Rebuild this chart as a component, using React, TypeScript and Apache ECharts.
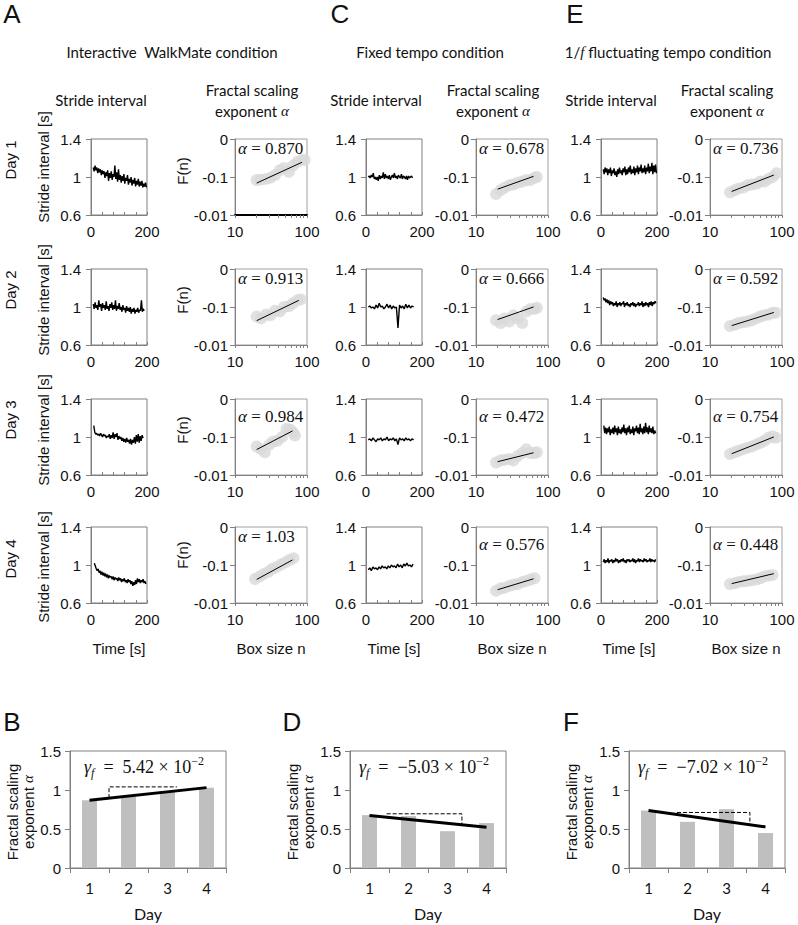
import React, { useEffect, useRef } from "react";
import * as echarts from "echarts";

const SANS = "'Liberation Sans', Arial, sans-serif";
const LATO = "Lato, 'Open Sans', sans-serif";
const SERIF = "'Liberation Serif', 'DejaVu Serif', serif";

// ---------- Titles ----------
const panelLetters = ["A", "C", "E", "B", "D", "F"];
const conditionTitles = ["Interactive  WalkMate condition", "Fixed tempo condition", "1/{i|f} fluctuating tempo condition"];
const dayLabels = ["Day 1", "Day 2", "Day 3", "Day 4"];

// ---------- Stride interval time series (s) ----------
const tsA1 = [1.1, 1.06, 1.12, 1.07, 1.1, 1.04, 1.09, 1.05, 1.08, 1.02, 1.07, 1.03, 1.06, 0.99, 1.05, 1.01, 1.07, 0.96, 1.04, 0.99, 1.06, 0.97, 1.03, 1.0, 1.12, 0.98, 1.05, 0.95, 1.08, 0.97, 1.02, 0.94, 1.01, 0.96, 1.03, 0.93, 0.99, 0.96, 1.02, 0.92, 0.98, 0.94, 1.0, 0.91, 0.97, 0.93, 0.99, 0.9, 0.96, 0.92, 0.98, 0.9, 0.95, 0.91, 0.96, 0.89, 0.93, 0.9, 0.94, 0.89];
const tsA2 = [1.03, 0.98, 1.05, 0.99, 1.02, 0.97, 1.07, 1.0, 1.03, 0.96, 1.04, 0.99, 1.02, 0.97, 1.06, 0.98, 1.01, 0.96, 1.03, 0.99, 1.05, 0.97, 1.02, 0.98, 1.07, 0.96, 1.01, 0.98, 1.04, 0.97, 1.0, 0.95, 1.02, 0.97, 0.99, 0.94, 1.01, 0.96, 0.99, 0.95, 1.0, 0.93, 0.98, 0.95, 0.99, 0.93, 0.97, 0.95, 0.99, 0.94, 0.97, 0.96, 1.07, 0.95, 0.98, 0.96];
const tsA3 = [1.12, 1.05, 1.03, 1.04, 1.02, 1.03, 1.01, 1.04, 1.02, 1.0, 1.03, 1.01, 1.02, 0.99, 1.01, 1.0, 1.03, 0.98, 1.02, 0.99, 1.05, 0.98, 1.03, 1.0, 1.04, 0.97, 1.01, 0.98, 1.0, 0.96, 0.99, 0.95, 0.98, 0.94, 0.99, 0.95, 0.97, 0.93, 0.98, 0.92, 0.97, 0.94, 1.0, 0.93, 1.02, 0.95, 1.03, 0.94, 1.01, 0.96, 1.02, 0.99];
const tsA4 = [1.02, 0.99, 0.96, 0.94, 0.96, 0.92, 0.94, 0.9, 0.93, 0.89, 0.92, 0.88, 0.91, 0.87, 0.9, 0.86, 0.89, 0.87, 0.88, 0.85, 0.88, 0.84, 0.87, 0.85, 0.86, 0.83, 0.87, 0.84, 0.86, 0.82, 0.85, 0.83, 0.86, 0.82, 0.84, 0.81, 0.85, 0.82, 0.84, 0.8, 0.83, 0.78, 0.82, 0.79, 0.84, 0.8, 0.86, 0.82, 0.85, 0.81, 0.84, 0.82, 0.85, 0.81, 0.83, 0.8];
const tsC1 = [1.0, 1.01, 0.99, 1.02, 1.0, 1.04, 0.98, 1.0, 0.97, 1.0, 0.96, 1.02, 0.98, 1.01, 0.99, 1.05, 0.98, 1.03, 0.99, 1.01, 0.98, 1.02, 0.97, 1.0, 1.02, 0.99, 1.04, 0.99, 1.01, 0.98, 1.02, 1.0, 0.99, 1.03, 0.98, 1.01, 1.0, 0.98, 1.01, 0.97, 1.01, 0.99, 1.0, 1.01, 0.99];
const tsC2 = [1.0, 1.01, 0.99, 1.0, 0.98, 1.02, 0.99, 1.04, 1.0, 1.01, 0.98, 1.0, 1.03, 0.99, 1.02, 0.98, 1.01, 0.99, 1.0, 0.78, 1.02, 0.99, 1.01, 0.98, 1.03, 0.99, 1.02, 0.99, 1.01, 1.0];
const tsC3 = [0.97, 0.98, 0.96, 0.99, 0.97, 0.95, 0.98, 0.97, 0.99, 0.96, 0.98, 0.97, 1.0, 0.96, 0.98, 0.97, 0.99, 0.96, 0.98, 0.92, 0.99, 0.97, 0.98, 0.96, 0.99, 0.97, 0.98, 0.96, 0.98, 0.97];
const tsC4 = [0.95, 0.97, 0.94, 0.98, 0.96, 0.97, 0.95, 0.98, 0.96, 0.99, 0.97, 0.98, 0.96, 0.99, 0.97, 1.0, 0.98, 0.99, 0.97, 1.01, 0.98, 1.0, 0.97, 1.01, 0.99, 1.02, 0.99, 1.0, 0.98, 1.01];
const tsE1 = [1.08, 1.03, 1.1, 1.05, 1.09, 1.02, 1.08, 1.04, 1.1, 1.01, 1.07, 1.04, 1.09, 1.02, 1.06, 1.0, 1.08, 1.03, 1.1, 1.04, 1.07, 1.02, 1.09, 1.05, 1.11, 1.02, 1.08, 1.03, 1.1, 1.05, 1.12, 1.03, 1.08, 1.04, 1.11, 1.02, 1.09, 1.05, 1.12, 1.03, 1.1, 1.06, 1.13, 1.04, 1.09, 1.05, 1.12, 1.03, 1.1, 1.06, 1.14, 1.04, 1.11, 1.06, 1.15, 1.03, 1.12, 1.05, 1.13, 1.04];
const tsE2 = [1.1, 1.07, 1.09, 1.05, 1.08, 1.04, 1.07, 1.02, 1.06, 1.03, 1.05, 1.01, 1.04, 1.02, 1.06, 1.0, 1.04, 1.02, 1.05, 1.01, 1.04, 1.03, 1.06, 1.0, 1.04, 1.02, 1.05, 1.01, 1.03, 1.0, 1.04, 1.02, 1.05, 1.01, 1.04, 1.0, 1.03, 1.02, 1.05, 1.01, 1.04, 1.02, 1.06, 1.0, 1.04, 1.01, 1.05, 1.02, 1.04, 1.0, 1.05, 1.02, 1.06, 1.01, 1.05, 1.03, 1.06, 1.04];
const tsE3 = [1.12, 1.04, 1.1, 1.03, 1.09, 1.05, 1.11, 1.02, 1.08, 1.04, 1.1, 1.03, 1.12, 1.05, 1.09, 1.02, 1.11, 1.04, 1.08, 1.03, 1.1, 1.05, 1.13, 1.04, 1.09, 1.02, 1.1, 1.05, 1.12, 1.03, 1.08, 1.04, 1.11, 1.02, 1.09, 1.06, 1.12, 1.04, 1.1, 1.03, 1.14, 1.05, 1.09, 1.03, 1.11, 1.04, 1.15, 1.05, 1.1, 1.03, 1.12, 1.05, 1.09, 1.04, 1.11, 1.03, 1.07, 1.04];
const tsE4 = [1.03, 1.06, 1.02, 1.05, 1.03, 1.07, 1.02, 1.05, 1.04, 1.06, 1.02, 1.05, 1.03, 1.07, 1.04, 1.06, 1.02, 1.05, 1.03, 1.06, 1.04, 1.07, 1.03, 1.05, 1.02, 1.06, 1.04, 1.06, 1.03, 1.05, 1.04, 1.07, 1.03, 1.06, 1.02, 1.05, 1.04, 1.07, 1.03, 1.06, 1.04, 1.05, 1.03, 1.07, 1.04, 1.06, 1.03, 1.05, 1.04, 1.07, 1.03, 1.06, 1.04, 1.05, 1.03, 1.06];
// recording span [start, end] in seconds per series
const tsSpanA = [[8, 198], [8, 190], [10, 186], [12, 196]];
const tsSpanC = [[8, 166], [8, 170], [8, 170], [8, 168]];
const tsSpanE = [[8, 198], [8, 196], [10, 195], [8, 195]];

// ---------- DFA: box size n and log F(n) (axis units) ----------
const nA1 = [20, 23, 27, 31, 36, 42, 48, 56, 64, 74, 85, 93];
const fA1 = [-1.08, -1.07, -1.05, -1.02, -0.95, -0.82, -0.76, -0.86, -0.7, -0.6, -0.55, -0.55];
const nA2 = [20, 23, 27, 31, 36, 42, 48, 56, 64, 74, 82];
const fA2 = [-1.25, -1.3, -1.2, -1.22, -1.1, -1.12, -1.0, -0.98, -0.9, -0.82, -0.8];
const nA3 = [20, 23, 26, 30, 34, 39, 45, 52, 58, 64, 68];
const fA3 = [-1.25, -1.32, -1.4, -1.2, -1.12, -1.1, -1.0, -0.78, -0.8, -0.88, -0.96];
const nA4 = [19, 22, 25, 29, 33, 38, 44, 50, 57, 65];
const fA4 = [-1.37, -1.3, -1.24, -1.18, -1.1, -1.05, -0.98, -0.93, -0.87, -0.82];
const nC1 = [19, 22, 25, 29, 33, 38, 44, 50, 57, 65, 70];
const fC1 = [-1.45, -1.35, -1.28, -1.22, -1.2, -1.15, -1.12, -1.08, -1.08, -1.02, -1.0];
const nC2 = [19, 22, 25, 29, 33, 38, 44, 50, 57, 65, 70];
const fC2 = [-1.35, -1.42, -1.3, -1.38, -1.22, -1.3, -1.42, -1.12, -1.05, -1.05, -1.02];
const nC3 = [19, 22, 25, 29, 33, 38, 44, 50, 57, 65, 70];
const fC3 = [-1.67, -1.62, -1.6, -1.58, -1.62, -1.5, -1.42, -1.32, -1.42, -1.42, -1.4];
const nC4 = [19, 22, 25, 29, 33, 38, 44, 50, 57, 65];
const fC4 = [-1.68, -1.62, -1.6, -1.55, -1.52, -1.5, -1.45, -1.42, -1.38, -1.35];
const nE1 = [19, 22, 25, 29, 33, 38, 44, 50, 57, 65, 74, 84];
const fE1 = [-1.4, -1.35, -1.3, -1.28, -1.22, -1.2, -1.18, -1.12, -1.12, -1.05, -1.0, -0.9];
const nE2 = [19, 22, 25, 29, 33, 38, 44, 50, 57, 65, 74, 82];
const fE2 = [-1.5, -1.47, -1.42, -1.4, -1.38, -1.35, -1.3, -1.25, -1.22, -1.2, -1.15, -1.15];
const nE3 = [19, 22, 25, 29, 33, 38, 44, 50, 57, 65, 74, 82];
const fE3 = [-1.45, -1.4, -1.36, -1.32, -1.28, -1.25, -1.2, -1.15, -1.1, -1.02, -0.98, -1.02];
const nE4 = [19, 22, 25, 29, 33, 38, 44, 50, 57, 65, 74];
const fE4 = [-1.5, -1.48, -1.45, -1.43, -1.42, -1.4, -1.38, -1.35, -1.3, -1.28, -1.26];

// fitted scaling exponents and fit ranges
const alphaA = [0.870, 0.913, 0.984, 1.03];
const alphaC = [0.678, 0.666, 0.472, 0.576];
const alphaE = [0.736, 0.592, 0.754, 0.448];
const alphaLabelA = ["0.870", "0.913", "0.984", "1.03"];
const alphaLabelC = ["0.678", "0.666", "0.472", "0.576"];
const alphaLabelE = ["0.736", "0.592", "0.754", "0.448"];
const fitStartF_A = [-1.16, -1.36, -1.33, -1.38];
const fitStartF_C = [-1.32, -1.33, -1.65, -1.65];
const fitStartF_E = [-1.38, -1.49, -1.44, -1.49];
const fitEndN_A = [85, 77, 63, 63];
const fitEndN_C = [63, 63, 63, 63];
const fitEndN_E = [77, 77, 77, 77];
const fitStartN = 20;

// ---------- Bar charts (B, D, F) ----------
const days = [1, 2, 3, 4];
const barB = [0.870, 0.913, 0.984, 1.03];
const barD = [0.678, 0.666, 0.472, 0.576];
const barF = [0.736, 0.592, 0.754, 0.448];
const gammaVals = [0.0542, -0.0503, -0.0702];
const gammaLabels = ["5.42", "\u22125.03", "\u22127.02"];
// dashed reference triangle: [x start, x end, top value]
const triB = [1.5, 3.24, 1.04];
const triD = [1.44, 3.37, 0.695];
const triF = [1.73, 3.6, 0.712];

// ---------- tick values ----------
const tsXTicks = [0, 40, 80, 120, 160, 200];
const tsXLabels = [0, 200];
const tsYTicks = [0.6, 1, 1.4];
const dfaYTicks = [-2, -1, 0];
const dfaYText: Record<string, string> = { "-2": "-0.01", "-1": "-0.1", "0": "0" };
const dfaXTicksN = [10, 20, 30, 40, 50, 60, 70, 80, 90, 100];
const dfaXLabelsN = [10, 100];
const barXTicks = [0.5, 1.5, 2.5, 3.5, 4.5];

// ---------- layout ----------
const rowTop = [139, 269, 399, 527];
const rowH = 76;
const tsLeft = [91, 366, 601];
const tsW = 56;
const dfaLeft = [235, 476, 710];
const dfaW = 72;
const barLeft = [70, 350, 629];
const barW = 156;
const barTop = 751;
const barH = 117;

export default function App() {
  const ref = useRef<HTMLDivElement>(null);
  useEffect(() => {
    if (!ref.current) return;
    const chart = echarts.init(ref.current, undefined, { renderer: "svg" });

    const tsData = [[tsA1, tsA2, tsA3, tsA4], [tsC1, tsC2, tsC3, tsC4], [tsE1, tsE2, tsE3, tsE4]];
    const tsSpans = [tsSpanA, tsSpanC, tsSpanE];
    const dfaN = [[nA1, nA2, nA3, nA4], [nC1, nC2, nC3, nC4], [nE1, nE2, nE3, nE4]];
    const dfaF = [[fA1, fA2, fA3, fA4], [fC1, fC2, fC3, fC4], [fE1, fE2, fE3, fE4]];
    const alphas = [alphaA, alphaC, alphaE];
    const alphaLabels = [alphaLabelA, alphaLabelC, alphaLabelE];
    const fitStarts = [fitStartF_A, fitStartF_C, fitStartF_E];
    const fitEnds = [fitEndN_A, fitEndN_C, fitEndN_E];
    const bars = [barB, barD, barF];
    const tris = [triB, triD, triF];

    const grids: any[] = [];
    const xAxes: any[] = [];
    const yAxes: any[] = [];
    const series: any[] = [];
    const graphics: any[] = [];

    const axisColor = "#808080";
    const labelBase = { fontFamily: SANS, fontSize: 15, color: "#111" };

    const text = (x: number, y: number, t: string, o: any = {}) => {
      graphics.push({
        type: "text",
        x,
        y,
        rotation: o.rotation || 0,
        style: {
          text: t,
          align: o.align || "center",
          verticalAlign: "middle",
          fontFamily: o.fontFamily || SANS,
          fontSize: o.fontSize || 15,
          fill: "#111",
          lineHeight: o.lineHeight,
          rich: o.rich,
        },
      });
    };

    for (let c = 0; c < 3; c++) {
      for (let r = 0; r < 4; r++) {
        // ---- time series grid ----
        const gi = grids.length;
        grids.push({ left: tsLeft[c], top: rowTop[r], width: tsW, height: rowH, show: true, borderColor: axisColor, borderWidth: 1, containLabel: false });
        xAxes.push({
          gridIndex: gi, type: "value", min: 0, max: 200,
          axisLine: { show: true, onZero: false, lineStyle: { color: axisColor } },
          axisTick: { show: true, inside: true, length: 3, customValues: tsXTicks, lineStyle: { color: axisColor } },
          axisLabel: { ...labelBase, customValues: tsXLabels, margin: 9 },
          splitLine: { show: false },
        });
        yAxes.push({
          gridIndex: gi, type: "value", min: 0.6, max: 1.4,
          axisLine: { show: true, onZero: false, lineStyle: { color: axisColor } },
          axisTick: { show: true, length: 5, customValues: tsYTicks, lineStyle: { color: axisColor } },
          axisLabel: { ...labelBase, customValues: tsYTicks, margin: 10, formatter: (v: number) => String(Math.round(v * 10) / 10) },
          splitLine: { show: false },
        });
        const vals = tsData[c][r];
        const [t0, t1] = tsSpans[c][r];
        series.push({
          type: "line", xAxisIndex: gi, yAxisIndex: gi, showSymbol: false, silent: true,
          lineStyle: { color: "#000", width: 1.4 },
          data: vals.map((v, i) => [t0 + (i * (t1 - t0)) / (vals.length - 1), v]),
        });

        // ---- DFA grid ----
        const gj = grids.length;
        grids.push({ left: dfaLeft[c], top: rowTop[r], width: dfaW, height: rowH, show: true, borderColor: "#a0a0a0", borderWidth: 1, containLabel: false });
        const strongBottom = c === 0 && r === 0;
        xAxes.push({
          gridIndex: gj, type: "value", min: 1, max: 2,
          axisLine: { show: true, onZero: false, lineStyle: { color: strongBottom ? "#000" : axisColor, width: strongBottom ? 2 : 1 } },
          axisTick: { show: true, length: 3, customValues: dfaXTicksN.map((n) => Math.log10(n)), lineStyle: { color: axisColor } },
          axisLabel: { ...labelBase, customValues: dfaXLabelsN.map((n) => Math.log10(n)), margin: 9, formatter: (v: number) => String(Math.round(Math.pow(10, v))) },
          splitLine: { show: false },
        });
        yAxes.push({
          gridIndex: gj, type: "value", min: -2, max: 0,
          axisLine: { show: true, onZero: false, lineStyle: { color: axisColor } },
          axisTick: { show: true, length: 5, customValues: dfaYTicks, lineStyle: { color: axisColor } },
          axisLabel: { ...labelBase, customValues: dfaYTicks, margin: 7, formatter: (v: number) => dfaYText[String(Math.round(v))] },
          splitLine: { show: false },
        });
        const ns = dfaN[c][r];
        const fs = dfaF[c][r];
        series.push({
          type: "scatter", xAxisIndex: gj, yAxisIndex: gj, silent: true, symbolSize: 12,
          itemStyle: { color: "#d9d9d9" },
          data: ns.map((n, i) => [Math.log10(n), fs[i]]),
        });
        const a = alphas[c][r];
        const y0 = fitStarts[c][r];
        const nEnd = fitEnds[c][r];
        series.push({
          type: "line", xAxisIndex: gj, yAxisIndex: gj, showSymbol: false, silent: true,
          lineStyle: { color: "#000", width: 1 },
          data: [
            [Math.log10(fitStartN), y0],
            [Math.log10(nEnd), y0 + a * Math.log10(nEnd / fitStartN)],
          ],
        });
        const dy = r === 2 ? 17 : r === 3 && c > 0 ? 17 : 9;
        text(dfaLeft[c] + 3, rowTop[r] + dy, "{a|\u03b1} = " + alphaLabels[c][r], {
          align: "left", fontFamily: SERIF, fontSize: 17,
          rich: { a: { fontStyle: "italic", fontFamily: SERIF, fontSize: 17 } },
        });
      }
    }

    // ---- bar charts ----
    for (let k = 0; k < 3; k++) {
      const gi = grids.length;
      grids.push({ left: barLeft[k], top: barTop, width: barW, height: barH, show: true, borderColor: axisColor, borderWidth: 1, containLabel: false });
      xAxes.push({
        gridIndex: gi, type: "value", min: 0.5, max: 4.5,
        axisLine: { show: true, onZero: false, lineStyle: { color: axisColor } },
        axisTick: { show: true, length: 5, customValues: barXTicks, lineStyle: { color: axisColor } },
        axisLabel: { fontFamily: LATO, fontSize: 15, color: "#111", customValues: days, margin: 12 },
        splitLine: { show: false },
      });
      yAxes.push({
        gridIndex: gi, type: "value", min: 0, max: 1.5, interval: 0.5,
        axisLine: { show: true, onZero: false, lineStyle: { color: axisColor } },
        axisTick: { show: true, length: 5, lineStyle: { color: axisColor } },
        axisLabel: { ...labelBase, margin: 9 },
        splitLine: { show: false },
      });
      const vals = bars[k];
      series.push({
        type: "bar", xAxisIndex: gi, yAxisIndex: gi, barWidth: 15, silent: true,
        itemStyle: { color: "#bfbfbf" },
        data: days.map((d, i) => [d, vals[i]]),
      });
      const mean = vals.reduce((s, v) => s + v, 0) / vals.length;
      const g = gammaVals[k];
      const lineAt = (x: number) => mean + g * (x - 2.5);
      const [tx0, tx1, top] = tris[k];
      const triPts = k === 0
        ? [[tx0, lineAt(tx0)], [tx0, top], [tx1, top]]
        : [[tx0, top], [tx1, top], [tx1, lineAt(tx1)]];
      series.push({
        type: "line", xAxisIndex: gi, yAxisIndex: gi, showSymbol: false, silent: true,
        lineStyle: { color: "#000", width: 1, type: [4, 2] },
        data: triPts,
      });
      series.push({
        type: "line", xAxisIndex: gi, yAxisIndex: gi, showSymbol: false, silent: true,
        lineStyle: { color: "#000", width: 3 },
        data: [[1, lineAt(1)], [4, lineAt(4)]],
      });
      // gamma annotation
      text(barLeft[k] + barW / 2 - 4, 767, "{g|\u03b3}{s|f}  =  " + gammaLabels[k] + " \u00d7 10{p|\u22122}", {
        fontFamily: SERIF, fontSize: 18,
        rich: {
          g: { fontStyle: "italic", fontFamily: SERIF, fontSize: 18, lineHeight: 24, verticalAlign: "middle" },
          s: { fontStyle: "italic", fontFamily: SERIF, fontSize: 12, lineHeight: 24, verticalAlign: "bottom" },
          p: { fontFamily: SERIF, fontSize: 12, lineHeight: 24, verticalAlign: "top" },
        },
      });
      // y-axis name
      text(barLeft[k] - 50, 812, "Fractal scaling\nexponent {a|\u03b1}", {
        rotation: Math.PI / 2, fontSize: 15, lineHeight: 16,
        rich: { a: { fontStyle: "italic", fontFamily: SERIF, fontSize: 15 } },
      });
      text(barLeft[k] + barW / 2, 913, "Day", { fontFamily: LATO, fontSize: 16 });
    }

    // ---- panel letters ----
    const letterPos = [[12, 14], [340, 14], [575, 14], [12, 722], [292, 722], [571, 722]];
    panelLetters.forEach((L, i) => text(letterPos[i][0], letterPos[i][1], L, { fontSize: 26 }));

    // ---- condition titles ----
    const titleX = [172, 430, 668];
    conditionTitles.forEach((t, i) =>
      text(titleX[i], 52, t, { fontFamily: LATO, fontSize: 15, rich: { i: { fontStyle: "italic", fontFamily: SERIF, fontSize: 15 } } })
    );

    // ---- column sub-titles ----
    for (let c = 0; c < 3; c++) {
      text(tsLeft[c] + tsW / 2 - 18, 100, "Stride interval", { fontFamily: LATO, fontSize: 15 });
      text(dfaLeft[c] + dfaW / 2 - 19, 100, "Fractal scaling\nexponent {a|\u03b1}", {
        fontFamily: LATO, fontSize: 15, lineHeight: 21,
        rich: { a: { fontStyle: "italic", fontFamily: SERIF, fontSize: 15 } },
      });
      text(tsLeft[c] + tsW / 2, 648, "Time [s]", { fontSize: 15 });
      text(dfaLeft[c] + dfaW / 2, 648, "Box size n", { fontSize: 15 });
    }

    // ---- row labels (column A only) ----
    const dayY = [160, 290, 420, 559];
    const sLabelY = [167, 300, 430, 567];
    const fnY = [171, 300, 430, 555];
    for (let r = 0; r < 4; r++) {
      text(10, dayY[r], dayLabels[r], { rotation: Math.PI / 2, fontSize: 15 });
      text(43, sLabelY[r], "Stride interval [s]", { rotation: Math.PI / 2, fontSize: 15 });
      text(182, fnY[r], "F(n)", { rotation: Math.PI / 2, fontSize: 15 });
    }

    chart.setOption({
      animation: false,
      backgroundColor: "#fff",
      grid: grids,
      xAxis: xAxes,
      yAxis: yAxes,
      series,
      graphic: graphics,
    });
    return () => chart.dispose();
  }, []);
  return <div ref={ref} style={{ position: "fixed", left: 0, top: 0, width: 798, height: 925 }} />;
}
